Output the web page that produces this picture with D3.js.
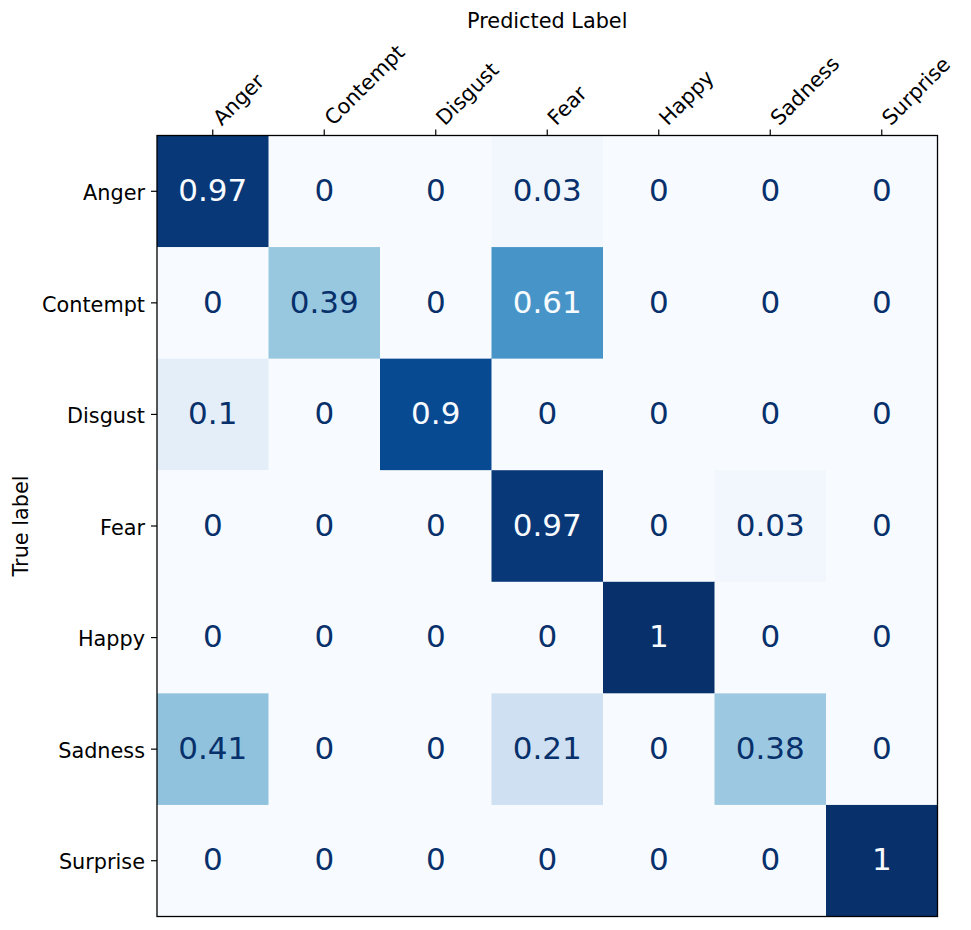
<!DOCTYPE html>
<html>
<head>
<meta charset="utf-8">
<script src="https://cdn.jsdelivr.net/npm/d3@7"></script>
<style>
  body { margin: 0; background: #fff; }
  svg text { font-family: "DejaVu Sans", sans-serif; }
</style>
</head>
<body>
<div id="chart"></div>
<script>
// Etiquetas de clases
const classes = ["Anger", "Contempt", "Disgust", "Fear", "Happy", "Sadness", "Surprise"];

// Filas de la matriz de confusión (valores normalizados)
const rowAnger    = [0.97, 0, 0, 0.03, 0, 0, 0];
const rowContempt = [0, 0.39, 0, 0.61, 0, 0, 0];
const rowDisgust  = [0.1, 0, 0.9, 0, 0, 0, 0];
const rowFear     = [0, 0, 0, 0.97, 0, 0.03, 0];
const rowHappy    = [0, 0, 0, 0, 1, 0, 0];
const rowSadness  = [0.41, 0, 0, 0.21, 0, 0.38, 0];
const rowSurprise = [0, 0, 0, 0, 0, 0, 1];

const matrix = [rowAnger, rowContempt, rowDisgust, rowFear, rowHappy, rowSadness, rowSurprise];

// Paleta "Blues" (interpolación lineal como matplotlib)
const bluesStops = ["#f7fbff", "#deebf7", "#c6dbef", "#9ecae1", "#6baed6", "#4292c6", "#2171b5", "#08519c", "#08306b"];

const width = 971;
const height = 930;
const margin = { top: 135.5, left: 157, right: 33.5, bottom: 13.5 };
const plotW = width - margin.left - margin.right;
const plotH = height - margin.top - margin.bottom;

const svg = d3.select("#chart")
    .append("svg")
    .attr("width", width)
    .attr("height", height);

const g = svg.append("g")
    .attr("transform", `translate(${margin.left},${margin.top})`);

const x = d3.scaleBand().domain(classes).range([0, plotW]);
const y = d3.scaleBand().domain(classes).range([0, plotH]);

const color = d3.scaleLinear()
    .domain(d3.range(bluesStops.length).map(i => i / (bluesStops.length - 1)))
    .range(bluesStops);

const cells = [];
matrix.forEach((row, i) => row.forEach((v, j) => cells.push({ row: classes[i], col: classes[j], value: v })));

// Celdas
g.selectAll("rect.cell")
    .data(cells)
    .enter()
    .append("rect")
    .attr("class", "cell")
    .attr("x", d => x(d.col))
    .attr("y", d => y(d.row))
    .attr("width", x.bandwidth() + 0.5)
    .attr("height", y.bandwidth() + 0.5)
    .attr("fill", d => color(d.value));

// Valores en las celdas
const thresh = 0.5;
g.selectAll("text.val")
    .data(cells)
    .enter()
    .append("text")
    .attr("class", "val")
    .attr("x", d => x(d.col) + x.bandwidth() / 2)
    .attr("y", d => y(d.row) + y.bandwidth() / 2)
    .attr("dy", "0.315em")
    .attr("text-anchor", "middle")
    .attr("font-size", "31px")
    .attr("fill", d => d.value > thresh ? bluesStops[0] : bluesStops[8])
    .text(d => String(d.value));

// Eje superior
const xAxis = g.append("g")
    .call(d3.axisTop(x).tickSize(6).tickSizeOuter(0));
xAxis.select(".domain").remove();
xAxis.selectAll(".tick line").attr("stroke", "#000").attr("stroke-width", 1.2);
xAxis.selectAll(".tick text")
    .attr("font-size", "20.8px")
    .attr("fill", "#000")
    .attr("text-anchor", "start")
    .attr("x", 0)
    .attr("y", 0)
    .attr("dy", 0)
    .attr("transform", "translate(9,-9) rotate(-45)");

// Eje izquierdo
const yAxis = g.append("g")
    .call(d3.axisLeft(y).tickSize(6).tickSizeOuter(0));
yAxis.select(".domain").remove();
yAxis.selectAll(".tick line").attr("stroke", "#000").attr("stroke-width", 1.2);
yAxis.selectAll(".tick text")
    .attr("font-size", "20.8px")
    .attr("fill", "#000")
    .attr("x", -12)
    .attr("dy", "0.42em");

// Marco
g.append("rect")
    .attr("width", plotW)
    .attr("height", plotH)
    .attr("fill", "none")
    .attr("stroke", "#000")
    .attr("stroke-width", 1.3);

// Títulos de ejes
svg.append("text")
    .attr("x", margin.left + plotW / 2)
    .attr("y", 28)
    .attr("text-anchor", "middle")
    .attr("font-size", "20.8px")
    .text("Predicted Label");

svg.append("text")
    .attr("transform", `translate(28,${margin.top + plotH / 2}) rotate(-90)`)
    .attr("text-anchor", "middle")
    .attr("font-size", "20.8px")
    .text("True label");
</script>
</body>
</html>
